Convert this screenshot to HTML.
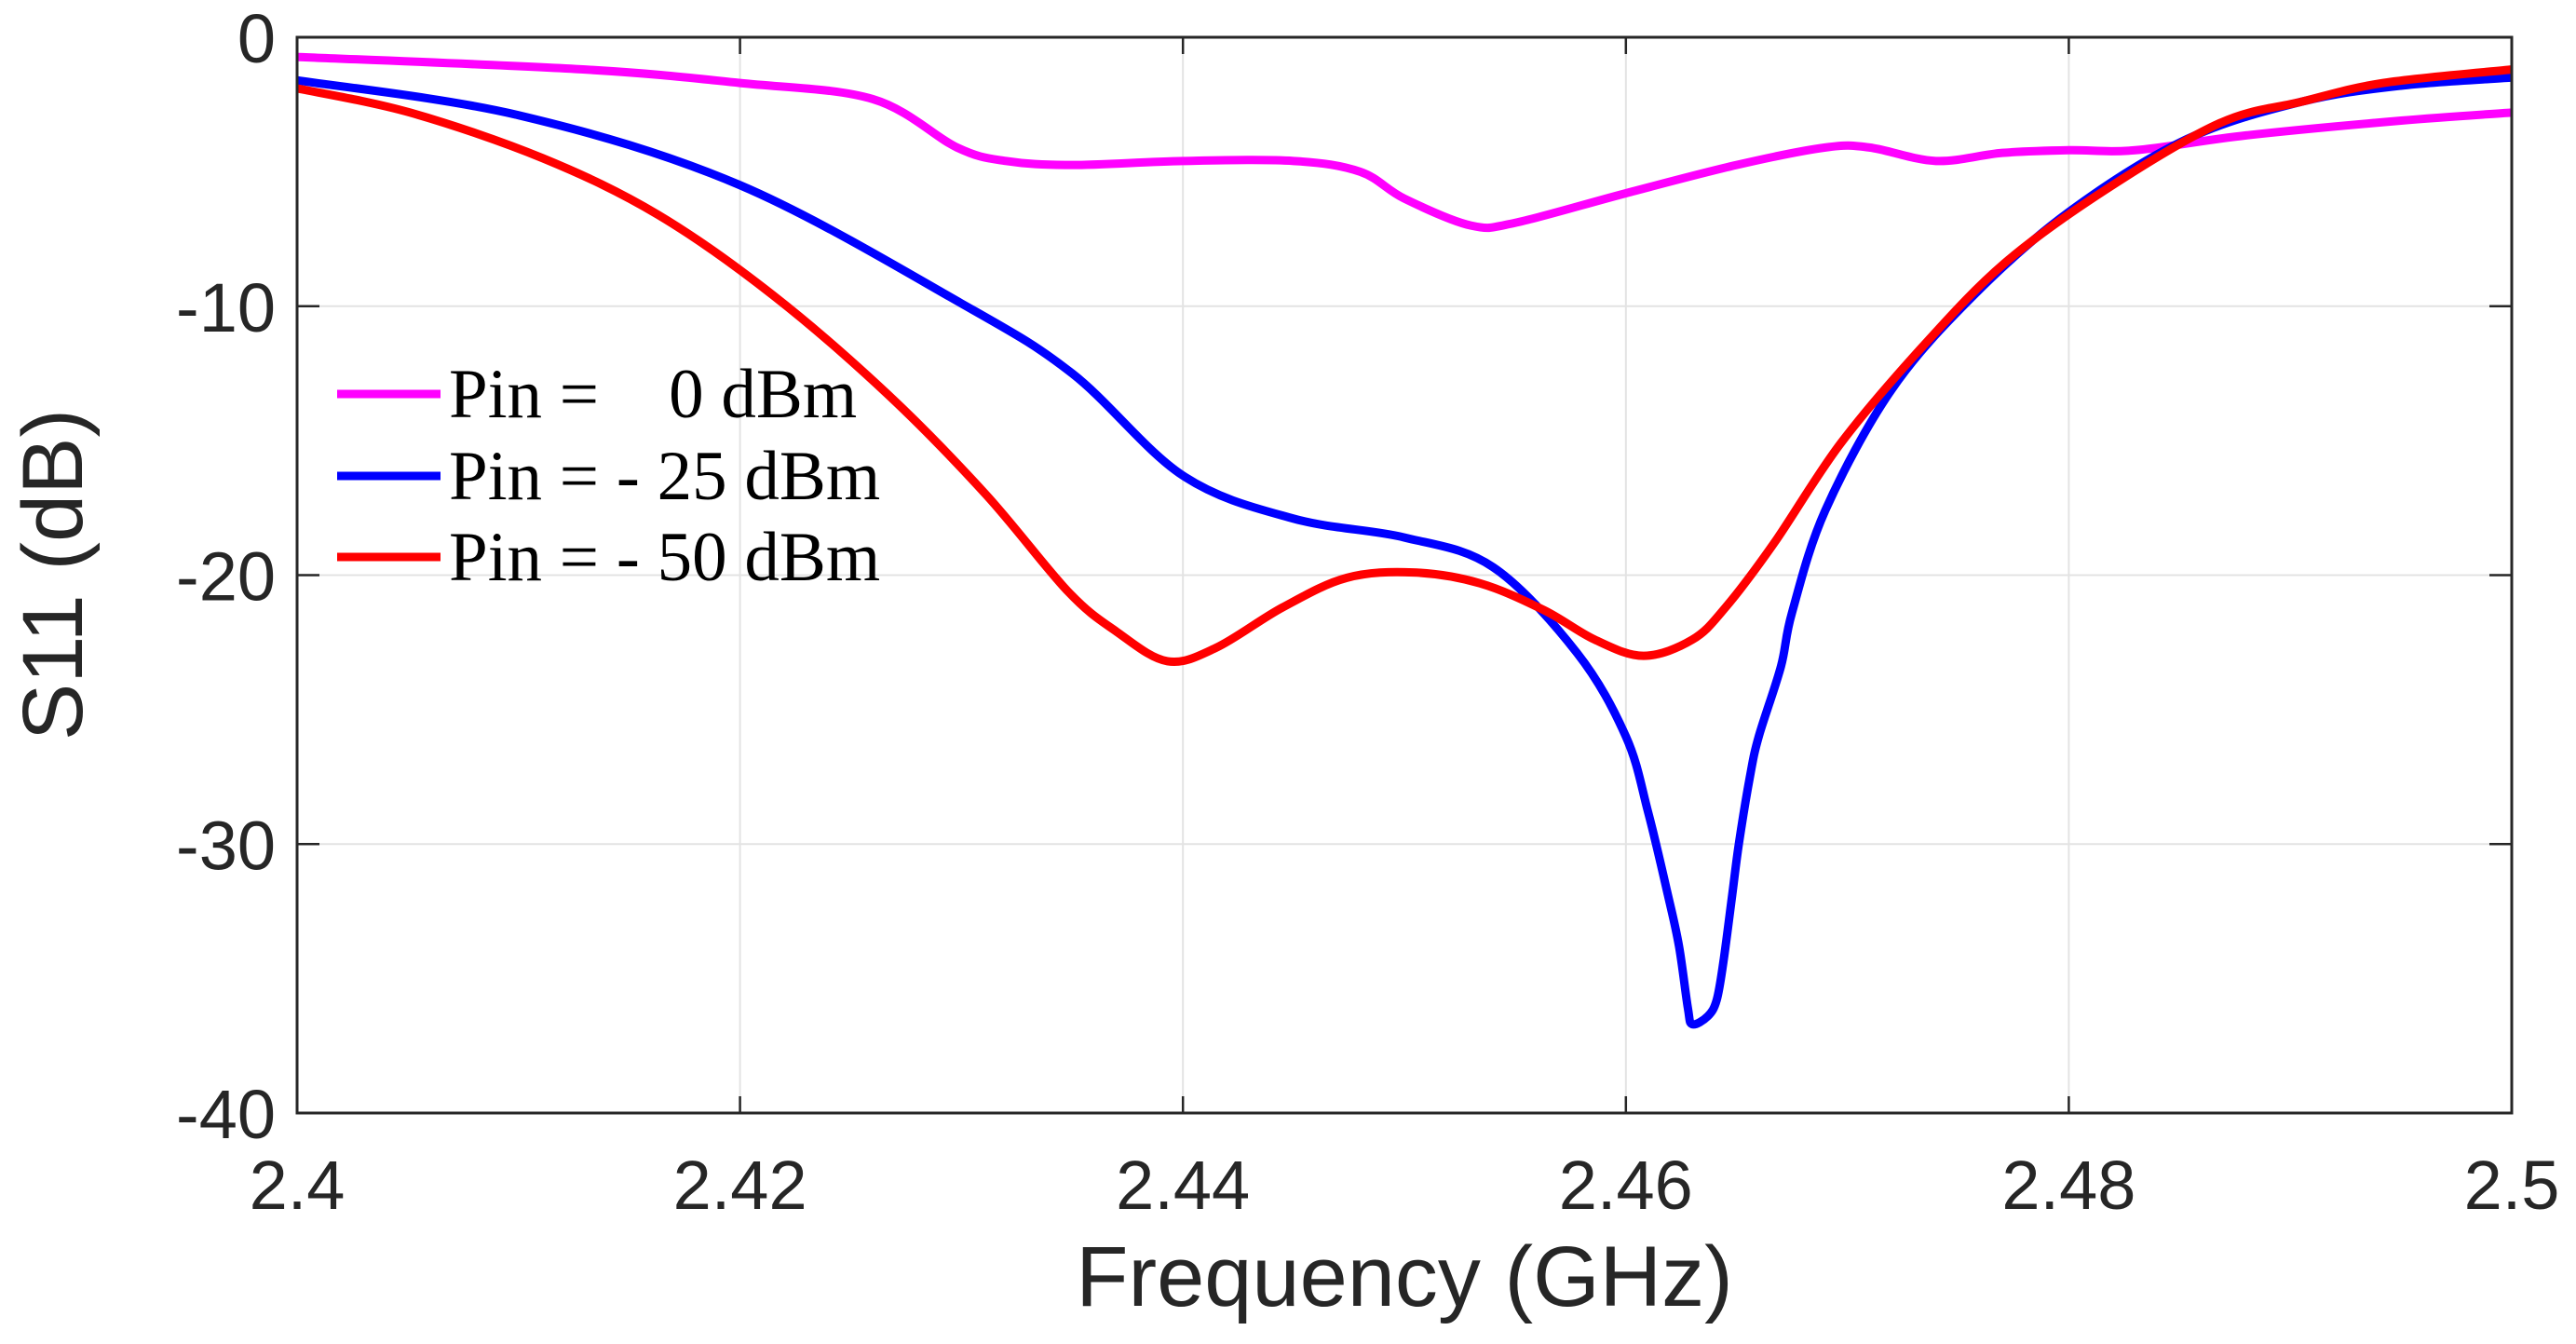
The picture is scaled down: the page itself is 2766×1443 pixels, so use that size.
<!DOCTYPE html>
<html><head><meta charset="utf-8"><style>body{margin:0;background:#fff}svg{display:block}</style></head>
<body>
<svg id="chart" width="2766" height="1443" xmlns="http://www.w3.org/2000/svg">
<rect width="2766" height="1443" fill="#fff"/>
<g id="grid"></g>
<g id="series"></g>
<g id="axes"></g>
<text x="1508" y="1402" font-family="Liberation Sans, sans-serif" font-size="92" fill="#262626" text-anchor="middle">Frequency (GHz)</text>
<text transform="translate(88,617) rotate(-90)" font-family="Liberation Sans, sans-serif" font-size="92" fill="#262626" text-anchor="middle">S11 (dB)</text>
<g font-family="Liberation Serif, serif" font-size="75" fill="#000">
<line x1="362" y1="423" x2="473" y2="423" stroke="#ff00ff" stroke-width="9"/>
<text x="482" y="448" xml:space="preserve">Pin =    0 dBm</text>
<line x1="362" y1="511" x2="473" y2="511" stroke="#0000ff" stroke-width="9"/>
<text x="482" y="536">Pin = - 25 dBm</text>
<line x1="362" y1="598" x2="473" y2="598" stroke="#ff0000" stroke-width="9"/>
<text x="482" y="623">Pin = - 50 dBm</text>
</g>
</svg>
<script>
const xTicks=[2.4,2.42,2.44,2.46,2.48,2.5];
const xTickLabels=["2.4","2.42","2.44","2.46","2.48","2.5"];
const yTicks=[0,-10,-20,-30,-40];
const yTickLabels=["0","-10","-20","-30","-40"];
const magF=[2.4,2.413,2.42,2.426,2.4298,2.432,2.435,2.44,2.445,2.448,2.45,2.453,2.455,2.46,2.465,2.469,2.471,2.474,2.477,2.48,2.483,2.488,2.495,2.5];
const magS=[-0.73,-1.2,-1.7,-2.3,-4.1,-4.6,-4.75,-4.6,-4.6,-5.0,-6.0,-7.0,-6.9,-5.8,-4.75,-4.1,-4.1,-4.6,-4.3,-4.2,-4.2,-3.65,-3.1,-2.8];
const blueF=[2.4,2.41,2.42,2.43,2.435,2.44,2.445,2.45,2.454,2.4578,2.46,2.461,2.4619,2.4624,2.4628,2.463,2.4637,2.4641,2.4644,2.4648,2.4651,2.4656,2.466,2.467,2.4675,2.469,2.472,2.4757,2.48,2.4853,2.4905,2.495,2.5];
const blueS=[-1.6,-2.9,-5.5,-9.9,-12.5,-16.3,-17.9,-18.6,-19.7,-22.9,-26.0,-28.8,-31.9,-33.8,-36.1,-36.7,-36.4,-35.8,-34.4,-31.9,-30.0,-27.5,-26.0,-23.4,-21.4,-17.6,-13.1,-9.6,-6.5,-3.8,-2.4,-1.8,-1.5];
const redF=[2.4,2.4051,2.4111,2.4163,2.4215,2.4267,2.4311,2.4348,2.437,2.4393,2.4415,2.4445,2.4474,2.4504,2.4534,2.4563,2.4586,2.4608,2.463,2.4645,2.4667,2.4697,2.4734,2.4771,2.4816,2.4868,2.4905,2.4942,2.5];
const redS=[-1.9,-2.8,-4.5,-6.6,-9.6,-13.3,-17,-20.6,-22.1,-23.2,-22.7,-21.2,-20.1,-19.9,-20.3,-21.3,-22.4,-23.0,-22.4,-21.2,-18.8,-15.1,-11.5,-8.4,-5.7,-3.2,-2.4,-1.7,-1.2];
const L=319,R=2697,T=40,B=1195,NS="http://www.w3.org/2000/svg";
const sx=f=>L+(f-2.4)/0.1*(R-L), sy=v=>T+(0-v)/40*(B-T);
function mk(tag,attrs,parent){const e=document.createElementNS(NS,tag);for(const k in attrs)e.setAttribute(k,attrs[k]);parent.appendChild(e);return e;}
const grid=document.getElementById('grid'),axes=document.getElementById('axes'),ser=document.getElementById('series');
xTicks.forEach((t,i)=>{
 if(i>0&&i<xTicks.length-1){const g=mk('line',{x1:sx(t),x2:sx(t),y1:T,y2:B,stroke:'#e3e3e3','stroke-width':2},grid);
 
 }
 const a=mk('line',{x1:sx(t),x2:sx(t),y1:B,y2:B-18,stroke:'#262626','stroke-width':2.5},axes);
 
 
 const b=mk('line',{x1:sx(t),x2:sx(t),y1:T,y2:T+18,stroke:'#262626','stroke-width':2.5},axes);
 
 
 const tx=mk('text',{x:sx(t),y:1298,'text-anchor':'middle','font-family':'Liberation Sans, sans-serif','font-size':74,fill:'#262626'},axes);
 tx.textContent=xTickLabels[i];
 
 
});
yTicks.forEach((t,i)=>{
 if(i>0&&i<yTicks.length-1){const g=mk('line',{x1:L,x2:R,y1:sy(t),y2:sy(t),stroke:'#e3e3e3','stroke-width':2},grid);
 
 }
 const a=mk('line',{x1:L,x2:L+24,y1:sy(t),y2:sy(t),stroke:'#262626','stroke-width':2.5},axes);
 
 
 const b=mk('line',{x1:R,x2:R-24,y1:sy(t),y2:sy(t),stroke:'#262626','stroke-width':2.5},axes);
 
 
 const tx=mk('text',{x:296,y:sy(t)+27,'text-anchor':'end','font-family':'Liberation Sans, sans-serif','font-size':74,fill:'#262626'},axes);
 tx.textContent=yTickLabels[i];
 
 
});
const box=mk('rect',{x:L,y:T,width:R-L,height:B-T,fill:'none',stroke:'#262626','stroke-width':3},axes);


function path(F,S){const p=F.map((f,i)=>[sx(f),sy(S[i])]);let d='M'+p[0][0]+','+p[0][1];
 for(let i=0;i<p.length-1;i++){const p0=p[Math.max(0,i-1)],p1=p[i],p2=p[i+1],p3=p[Math.min(p.length-1,i+2)];
 const c1=[p1[0]+(p2[0]-p0[0])/6,p1[1]+(p2[1]-p0[1])/6],c2=[p2[0]-(p3[0]-p1[0])/6,p2[1]-(p3[1]-p1[1])/6];
 d+=` C${c1[0]},${c1[1]} ${c2[0]},${c2[1]} ${p2[0]},${p2[1]}`;}return d;}
const s1=mk('path',{d:path(magF,magS),fill:'none',stroke:'#ff00ff','stroke-width':9,'stroke-linejoin':'round'},ser);


const s2=mk('path',{d:path(blueF,blueS),fill:'none',stroke:'#0000ff','stroke-width':9,'stroke-linejoin':'round'},ser);


const s3=mk('path',{d:path(redF,redS),fill:'none',stroke:'#ff0000','stroke-width':9,'stroke-linejoin':'round'},ser);


</script>
</body></html>
